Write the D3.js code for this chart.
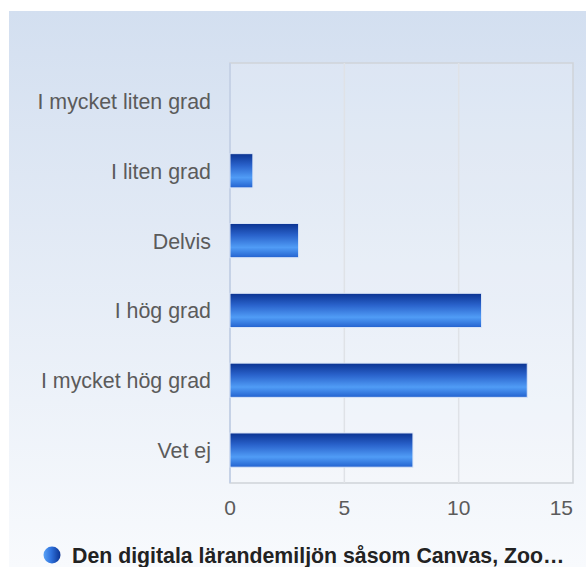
<!DOCTYPE html>
<html lang="sv">
<head>
<meta charset="UTF-8" />
<title>Bar chart</title>
<script src="https://d3js.org/d3.v7.min.js"></script>
<style>
    body { margin: 0; background: #fff; font-family: 'Liberation Sans', Arial, sans-serif; }
    .cat-label { font-size: 21.4px; fill: #5b5b5b; }
    .tick-label { font-size: 21px; fill: #5b5b5b; }
    .legend-text { font-size: 21.3px; font-weight: bold; fill: #222; }
</style>
</head>
<body>
<svg id="chart"></svg>
<script>
    // Data
    const categories = ["I mycket liten grad", "I liten grad", "Delvis", "I hög grad", "I mycket hög grad", "Vet ej"];
    const values = [0, 1, 3, 11, 13, 8];
    const xTicks = [0, 5, 10, 15];
    const seriesName = "Den digitala lärandemiljön såsom Canvas, Zoo…";

    const W = 586, H = 567;
    const plot = { left: 230, right: 573, top: 63, bottom: 483 };

    const svg = d3.select("#chart").attr("width", W).attr("height", H);
    const defs = svg.append("defs");

    // background gradient
    const bg = defs.append("linearGradient").attr("id", "bg")
        .attr("x1", 0).attr("y1", 0).attr("x2", 0).attr("y2", 1);
    bg.append("stop").attr("offset", "0%").attr("stop-color", "#d3dff0");
    bg.append("stop").attr("offset", "100%").attr("stop-color", "#f8fafd");

    // bar gradient
    const bar = defs.append("linearGradient").attr("id", "bar")
        .attr("x1", 0).attr("y1", 0).attr("x2", 0).attr("y2", 1);
    bar.append("stop").attr("offset", "0%").attr("stop-color", "#0b3391");
    bar.append("stop").attr("offset", "35%").attr("stop-color", "#2a63cc");
    bar.append("stop").attr("offset", "70%").attr("stop-color", "#509cf6");
    bar.append("stop").attr("offset", "100%").attr("stop-color", "#2362cf");

    const dot = defs.append("linearGradient").attr("id", "dot")
        .attr("x1", 0).attr("y1", 0).attr("x2", 1).attr("y2", 0);
    dot.append("stop").attr("offset", "0%").attr("stop-color", "#5aa2f5");
    dot.append("stop").attr("offset", "45%").attr("stop-color", "#2f72dd");
    dot.append("stop").attr("offset", "100%").attr("stop-color", "#0b3391");

    svg.append("rect").attr("x", 9).attr("y", 11).attr("width", W - 9).attr("height", H - 11)
        .attr("fill", "url(#bg)");

    const x = d3.scaleLinear().domain([0, 15]).range([plot.left, plot.right]);
    const y = d3.scaleBand().domain(categories).range([66, 485])
        .paddingInner(0.51).paddingOuter(0.255);

    // plot area
    svg.append("rect")
        .attr("x", plot.left).attr("y", plot.top)
        .attr("width", plot.right - plot.left).attr("height", plot.bottom - plot.top)
        .attr("fill", "#ffffff").attr("fill-opacity", 0.15)
        .attr("stroke", "#cfd3d9").attr("stroke-width", 1.5);

    // gridlines
    svg.append("g").selectAll("line")
        .data(xTicks.slice(1, -1))
        .join("line")
        .attr("x1", d => x(d)).attr("x2", d => x(d))
        .attr("y1", plot.top).attr("y2", plot.bottom)
        .attr("stroke", "#dfe2e7").attr("stroke-width", 1.5);

    // left axis line
    svg.append("line")
        .attr("x1", plot.left).attr("x2", plot.left)
        .attr("y1", plot.top).attr("y2", plot.bottom)
        .attr("stroke", "#c6d2e6").attr("stroke-width", 2);

    // bars
    svg.append("g").selectAll("rect")
        .data(values.map((v, i) => ({ cat: categories[i], v })).filter(d => d.v > 0))
        .join("rect")
        .attr("x", x(0))
        .attr("y", d => y(d.cat))
        .attr("width", d => x(d.v) - x(0))
        .attr("height", y.bandwidth())
        .attr("fill", "url(#bar)")
        .attr("stroke", "#dbe6f7").attr("stroke-width", 1);

    // category labels
    svg.append("g").selectAll("text")
        .data(categories)
        .join("text")
        .attr("class", "cat-label")
        .attr("x", 211)
        .attr("y", d => y(d) + y.bandwidth() / 2)
        .attr("dy", "0.37em")
        .attr("text-anchor", "end")
        .text(d => d);

    // x tick labels (last one kept inside the chart)
    svg.append("g").selectAll("text")
        .data(xTicks)
        .join("text")
        .attr("class", "tick-label")
        .attr("x", d => x(d))
        .attr("y", 515)
        .attr("text-anchor", (d, i) => i === xTicks.length - 1 ? "end" : "middle")
        .text(d => d);

    // legend
    svg.append("circle").attr("cx", 52).attr("cy", 555).attr("r", 8.5)
        .attr("fill", "url(#dot)");
    svg.append("text").attr("class", "legend-text")
        .attr("x", 72).attr("y", 563)
        .text(seriesName);
</script>
</body>
</html>
